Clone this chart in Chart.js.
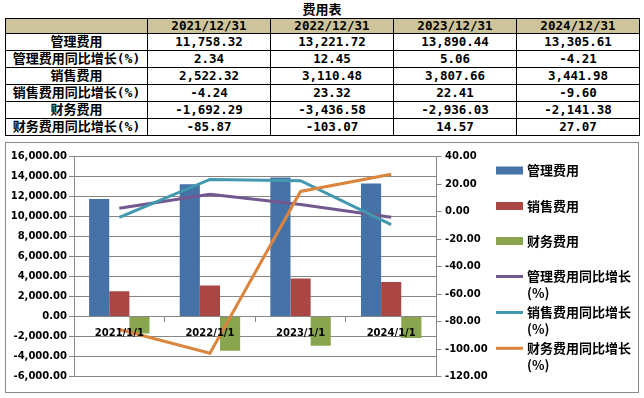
<!DOCTYPE html>
<html><head><meta charset="utf-8">
<script src="https://cdn.jsdelivr.net/npm/chart.js@4.4.1/dist/chart.umd.min.js"></script>
<style>
html,body{margin:0;padding:0;background:#fff;width:644px;height:398px;overflow:hidden;}
#title{position:absolute;left:0;top:0px;width:644px;text-align:center;font:bold 13px "Noto Sans CJK SC";line-height:17px;color:#000;}
#tbl{position:absolute;left:5px;top:18px;width:635px;border-collapse:collapse;table-layout:fixed;}
#tbl td{border:1px solid #000;padding:0;text-align:center;font:bold 12.5px "DejaVu Sans Mono","Noto Sans CJK SC";line-height:14px;white-space:nowrap;overflow:hidden;color:#000;}
#tbl td.n{font-size:13px;font-family:"DejaVu Sans Mono","Noto Sans CJK SC";}
#tbl tr.hd td{background:#CDC49C;height:13px;}
#tbl tr.r td{height:16px;}
#box{position:absolute;left:5px;top:142px;width:634px;height:251px;border:1px solid #8a8a8a;box-sizing:border-box;}
#cv{position:absolute;left:5px;top:142px;}
</style></head>
<body>
<div id="title">费用表</div>
<table id="tbl"><colgroup><col style="width:142px"><col><col><col><col></colgroup><tbody id="tb"></tbody></table>
<div id="box"></div>
<canvas id="cv" width="634" height="251"></canvas>
<script>
const categories = ['2021/1/1', '2022/1/1', '2023/1/1', '2024/1/1'];
const tableDates = ['2021/12/31', '2022/12/31', '2023/12/31', '2024/12/31'];
const seriesNames = ['管理费用', '销售费用', '财务费用', '管理费用同比增长(%)', '销售费用同比增长(%)', '财务费用同比增长(%)'];
const mgmtExpense = [11758.32, 13221.72, 13890.44, 13305.61];
const mgmtYoY = [2.34, 12.45, 5.06, -4.21];
const salesExpense = [2522.32, 3110.48, 3807.66, 3441.98];
const salesYoY = [-4.24, 23.32, 22.41, -9.60];
const finExpense = [-1692.29, -3436.58, -2936.03, -2141.38];
const finYoY = [-85.87, -103.07, 14.57, 27.07];
const leftTicks = {min: -6000, max: 16000, step: 2000};
const rightTicks = {min: -120, max: 40, step: 20};

const fmt = v => Number(v).toLocaleString('en-US', {minimumFractionDigits: 2, maximumFractionDigits: 2});

// table
const tb = document.getElementById('tb');
let html = '<tr class="hd"><td></td>' + tableDates.map(d => '<td>' + d + '</td>').join('') + '</tr>';
const rows = [
  [seriesNames[0], mgmtExpense], [seriesNames[3], mgmtYoY],
  [seriesNames[1], salesExpense], [seriesNames[4], salesYoY],
  [seriesNames[2], finExpense], [seriesNames[5], finYoY]
];
rows.forEach(r => {
  html += '<tr class="r"><td class="n">' + r[0] + '</td>' + r[1].map(v => '<td>' + fmt(v) + '</td>').join('') + '</tr>';
});
tb.innerHTML = html;

const colors = ['#4572A7', '#AA4643', '#89A54E', '#71588F', '#4198AF', '#DB843D'];

Chart.defaults.font = {family: '"DejaVu Sans"', size: 10, weight: 'bold'};
Chart.defaults.color = '#000';

const legendPlugin = {
  id: 'customLegend',
  afterDraw(chart) {
    const c = chart.ctx;
    c.save();
    const x0 = 491, x1 = 518, tx = 522;
    const ys = [28.5, 64, 99, 134.5, 170.5, 206.3];
    c.font = 'bold 13px "Noto Sans CJK SC"';
    c.textBaseline = 'middle';
    c.textAlign = 'left';
    c.fillStyle = '#000';
    chart.data.datasets.forEach((ds, i) => {
      const idx = ds.legendIndex;
      const y = ys[idx];
      if (ds.type === 'line') {
        c.strokeStyle = ds.borderColor;
        c.lineWidth = 3;
        c.beginPath(); c.moveTo(x0, y); c.lineTo(x1, y); c.stroke();
        const name = ds.label;
        const p = name.indexOf('(');
        c.fillStyle = '#000';
        c.fillText(name.slice(0, p), tx, y);
        c.fillText(name.slice(p), tx, y + 17);
      } else {
        c.fillStyle = ds.backgroundColor;
        c.fillRect(x0, y - 4, x1 - x0, 8);
        c.fillStyle = '#000';
        c.fillText(ds.label, tx, y);
      }
    });
    c.restore();
  }
};

const RW = 60;
new Chart(document.getElementById('cv'), {
  type: 'bar',
  data: {
    labels: categories,
    datasets: [
      {type: 'line', label: seriesNames[3], data: mgmtYoY, yAxisID: 'y1', borderColor: colors[3], backgroundColor: colors[3], borderWidth: 3, pointRadius: 0, tension: 0, fill: false, order: 3, legendIndex: 3},
      {type: 'line', label: seriesNames[4], data: salesYoY, yAxisID: 'y1', borderColor: colors[4], backgroundColor: colors[4], borderWidth: 3, pointRadius: 0, tension: 0, fill: false, order: 2, legendIndex: 4},
      {type: 'line', label: seriesNames[5], data: finYoY, yAxisID: 'y1', borderColor: colors[5], backgroundColor: colors[5], borderWidth: 3, pointRadius: 0, tension: 0, fill: false, order: 1, legendIndex: 5},
      {label: seriesNames[0], data: mgmtExpense, yAxisID: 'y', backgroundColor: colors[0], order: 4, categoryPercentage: 0.667, barPercentage: 1, legendIndex: 0},
      {label: seriesNames[1], data: salesExpense, yAxisID: 'y', backgroundColor: colors[1], order: 5, categoryPercentage: 0.667, barPercentage: 1, legendIndex: 1},
      {label: seriesNames[2], data: finExpense, yAxisID: 'y', backgroundColor: colors[2], order: 6, categoryPercentage: 0.667, barPercentage: 1, legendIndex: 2}
    ]
  },
  options: {
    responsive: false,
    animation: false,
    layout: {padding: {left: 0, top: 14.5, right: 634 - 431.5 - RW, bottom: 16.5}},
    plugins: {legend: {display: false}, tooltip: {enabled: false}},
    scales: {
      x: {
        position: {y: 0},
        offset: true,
        grid: {display: true, drawOnChartArea: false, drawTicks: true, tickLength: 5, offset: true, color: '#868686'},
        border: {display: false},
        ticks: {color: '#000', padding: 6, maxRotation: 0, autoSkip: false, z: 1},
        afterFit(s) { s.height = 0; }
      },
      y: {
        position: 'left',
        min: leftTicks.min, max: leftTicks.max,
        ticks: {stepSize: leftTicks.step, color: '#000', padding: 2, callback: v => fmt(v)},
        grid: {color: '#868686', tickLength: 5},
        border: {color: '#868686'},
        afterFit(s) { s.width = 69; }
      },
      y1: {
        position: 'right',
        min: rightTicks.min, max: rightTicks.max,
        ticks: {stepSize: rightTicks.step, color: '#000', padding: 3.5, callback: v => fmt(v)},
        grid: {drawOnChartArea: false, color: '#868686', tickLength: 5},
        border: {color: '#868686'},
        afterFit(s) { s.width = RW; }
      }
    }
  },
  plugins: [legendPlugin]
});
</script>
</body></html>
